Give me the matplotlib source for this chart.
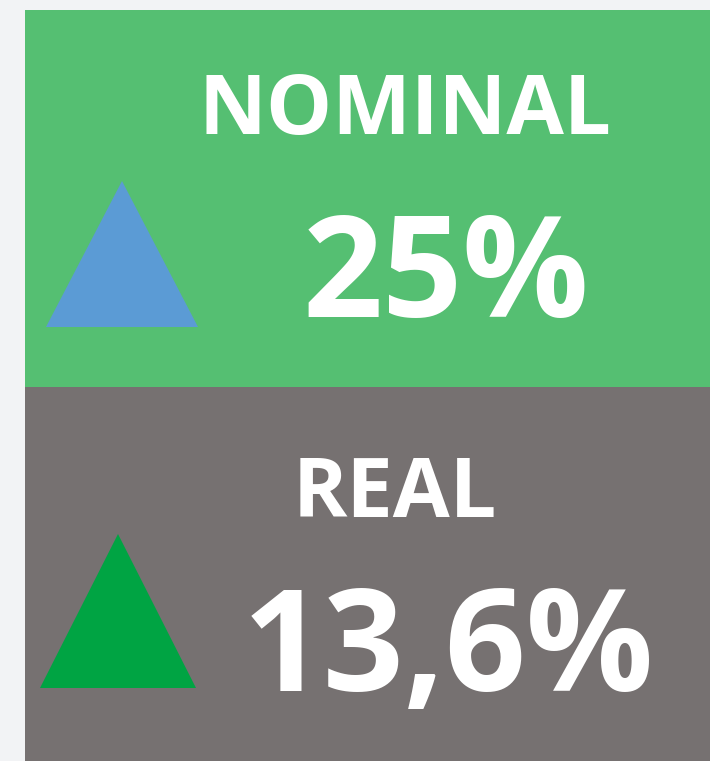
import matplotlib
matplotlib.use("Agg")
import matplotlib.pyplot as plt
from matplotlib.patches import Rectangle, Polygon

labels = ["NOMINAL", "REAL"]
values = [25, 13.6]
box_colors = ["#55bf72", "#767171"]
tri_colors = ["#5b9bd5", "#00a443"]

def fmt(v):
    s = f"{v:g}".replace(".", ",")
    return s + "%"

W, H = 710, 761
fig = plt.figure(figsize=(W / 100, H / 100), dpi=100)
fig.patch.set_facecolor("#f2f3f5")
ax = fig.add_axes([0, 0, 1, 1])
ax.set_xlim(0, W)
ax.set_ylim(H, 0)
ax.axis("off")

# layout (pixels)
boxes = [(25, 10, 685, 377), (25, 387, 685, 374)]
tris = [((46, 327), (198, 327), (122, 181)), ((40, 688), (196, 688), (118, 534))]
label_pos = [(405.5, 134, 60), (395, 517, 59.5)]
value_pos = [(446, 317, 101), (448.5, 691, 102)]

for i in range(len(labels)):
    x, y, w, h = boxes[i]
    ax.add_patch(Rectangle((x, y), w, h, facecolor=box_colors[i], edgecolor="none"))
    ax.add_patch(Polygon(tris[i], closed=True, facecolor=tri_colors[i], edgecolor="none"))
    lx, ly, ls = label_pos[i]
    ax.text(lx, ly, labels[i], ha="center", va="baseline", color="white",
            fontsize=ls, fontweight="bold", family=["Open Sans", "DejaVu Sans"])
    vx, vy, vs = value_pos[i]
    ax.text(vx, vy, fmt(values[i]), ha="center", va="baseline", color="white",
            fontsize=vs, fontweight="bold", family=["Open Sans", "DejaVu Sans"])

fig.savefig("out.png", dpi=100, facecolor=fig.get_facecolor())
